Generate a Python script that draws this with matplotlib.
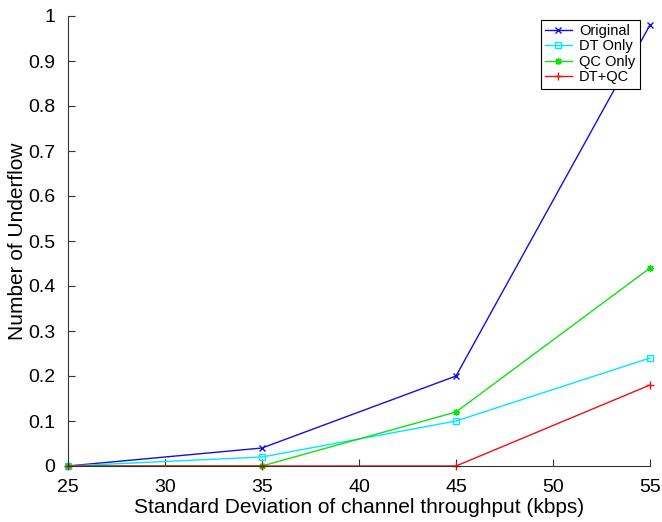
import matplotlib
matplotlib.use("Agg")
import matplotlib.pyplot as plt

plt.rcParams['font.family'] = ['Liberation Sans', 'DejaVu Sans']

x = [25, 35, 45, 55]
original = [0, 0.04, 0.2, 0.98]
dt_only = [0, 0.02, 0.1, 0.24]
qc_only = [0, 0, 0.12, 0.44]
dt_qc = [0, 0, 0, 0.18]

fig = plt.figure(figsize=(6.62, 5.22), dpi=100)
ax = fig.add_axes([68/662, 56/522, 582/662, 450/522])

ax.plot(x, original, color='#1010e0', marker='x', ms=5, mew=1, lw=1, label='Original', clip_on=False)
ax.plot(x, dt_only, color='#00e8ff', marker='s', ms=5, mfc='none', mew=1, lw=1, label='DT Only', clip_on=False)
ax.plot(x, qc_only, color='#10e010', marker=(8, 2, 0), ms=5, mew=1, lw=1, label='QC Only', clip_on=False)
ax.plot(x, dt_qc, color='#ee1010', marker='+', ms=6, mew=1, lw=1, label='DT+QC', clip_on=False)

ax.set_xlim(25, 55)
ax.set_ylim(0, 1)
ax.set_xticks([25, 30, 35, 40, 45, 50, 55])
ax.set_yticks([0, 0.1, 0.2, 0.3, 0.4, 0.5, 0.6, 0.7, 0.8, 0.9, 1])
ax.set_yticklabels(['0', '0.1', '0.2', '0.3', '0.4', '0.5', '0.6', '0.7', '0.8', '0.9', '1'])
ax.tick_params(direction='in', length=5, labelsize=14, width=0.8, color='#333333')
ax.tick_params(axis='x', pad=9)
ax.tick_params(axis='y', pad=9)
ax.spines['top'].set_visible(False)
ax.spines['right'].set_visible(False)
ax.spines['left'].set_color('#333333')
ax.spines['bottom'].set_color('#333333')
ax.set_xlabel('Standard Deviation of channel throughput (kbps)', fontsize=15, labelpad=2)
ax.set_ylabel('Number of Underflow', fontsize=15, labelpad=1)

leg = ax.legend(loc='upper right', fontsize=10.5, fancybox=False, edgecolor='black',
                framealpha=1, borderpad=0.3, labelspacing=0.1, handlelength=1.8,
                handletextpad=0.5, borderaxespad=0, bbox_to_anchor=(0.982, 0.992))
leg.get_frame().set_linewidth(0.8)

fig.savefig('out.png', dpi=100)
